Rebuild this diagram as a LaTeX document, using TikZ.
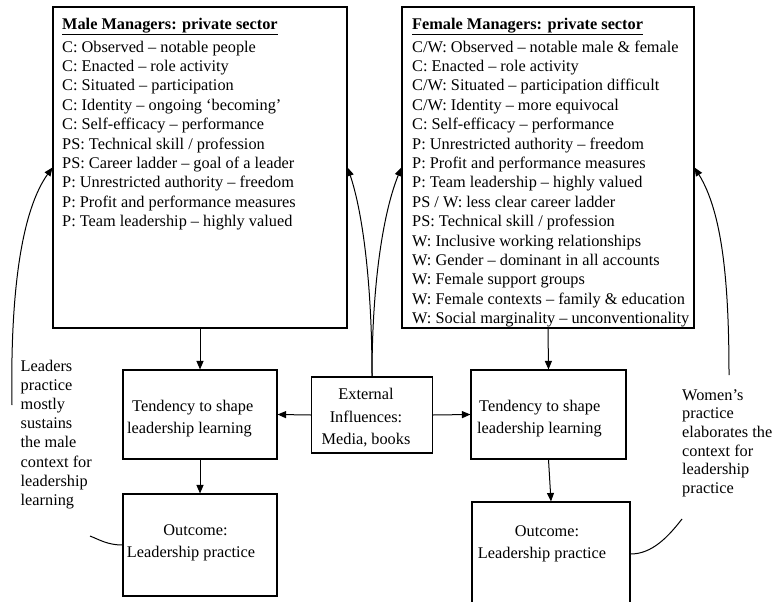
\documentclass[tikz,border=0pt]{standalone}
\usepackage{fontspec}
\setmainfont{Liberation Serif}
\usetikzlibrary{arrows.meta}
\begin{document}
\begin{tikzpicture}[x=1pt,y=-1pt,
  frame/.style={draw, line width=1.1pt, inner sep=0pt},
  link/.style={line width=1pt},
  arr/.style={link, -{Triangle[length=8.5pt,width=7pt]}},
  listtext/.style={inner sep=0pt, align=left, anchor=north west,
    font=\fontsize{16.3}{19.4}\selectfont},
  boxtext/.style={inner sep=0pt, anchor=north,
    font=\fontsize{16.3}{22.5}\selectfont},
  note/.style={inner sep=0pt, align=left, anchor=north west}
]
\useasboundingbox (0,0) rectangle (776,602);
\clip (0,0) rectangle (776,602);

% frames
\node[frame, minimum width=294, minimum height=321] (mbox) at (200,167.5) {};
\node[frame, minimum width=292, minimum height=321] (fbox) at (548,167.5) {};
\node[frame, minimum width=154, minimum height=89] (mtend) at (200,414.5) {};
\node[frame, minimum width=121, minimum height=76] (ext) at (372,415) {};
\node[frame, minimum width=155, minimum height=89] (ftend) at (548.5,414.5) {};
\node[frame, minimum width=154, minimum height=102] (mout) at (200,545) {};
\node[frame, minimum width=158, minimum height=104] (fout) at (551,554) {};

% lists of themes
\node[listtext] (mlist) at (62,17.5) {%
\underline{\textbf{Male Managers: private sector}}\\[3.6pt]
C: Observed – notable people\\
C: Enacted – role activity\\
C: Situated – participation\\
C: Identity – ongoing ‘becoming’\\
C: Self-efficacy – performance\\
PS: Technical skill / profession\\
PS: Career ladder – goal of a leader\\
P: Unrestricted authority – freedom\\
P: Profit and performance measures\\
P: Team leadership – highly valued};

\node[listtext] (flist) at (412,17.5) {%
\underline{\textbf{Female Managers: private sector}}\\[3.6pt]
C/W: Observed – notable male \& female\\
C: Enacted – role activity\\
C/W: Situated – participation difficult\\
C/W: Identity – more equivocal\\
C: Self-efficacy – performance\\
P: Unrestricted authority – freedom\\
P: Profit and performance measures\\
P: Team leadership – highly valued\\
PS / W: less clear career ladder\\
PS: Technical skill / profession\\
W: Inclusive working relationships\\
W: Gender – dominant in all accounts\\
W: Female support groups\\
W: Female contexts – family \& education\\
W: Social marginality – unconventionality};

% box texts
\node[boxtext, anchor=north west, align=left] (mtendtxt) at (127,399.6)
  {\hspace*{5pt}Tendency to shape\\leadership learning};
\node[boxtext, anchor=north west, align=left] (ftendtxt) at (477,399.6)
  {\hspace*{2pt}Tendency to shape\\leadership learning};
\node[boxtext, align=center] (exttxt) at (366,388.2)
  {External\\Influences:\\Media, books};
\node[boxtext, align=center, font=\fontsize{16.3}{22}\selectfont] (mouttxt) at (191,524.5)
  {\hspace*{9pt}Outcome:\\Leadership practice};
\node[boxtext, align=center, font=\fontsize{16.3}{22}\selectfont] (fouttxt) at (542,525.6)
  {\hspace*{10pt}Outcome:\\Leadership practice};

% side notes
\node[note, font=\fontsize{16.3}{19.1}\selectfont] (mnote) at (20.5,360)
  {Leaders\\practice\\mostly\\sustains\\the male\\context for\\leadership\\learning};
\node[note, font=\fontsize{16.3}{18.7}\selectfont] (fnote) at (682,389)
  {Women’s\\practice\\elaborates the\\context for\\leadership\\practice};

% free ends of the feedback curves
\coordinate (mrise) at (12,405);
\coordinate (mfoot) at (90,536);
\coordinate (frise) at (729,375);
\coordinate (ffoot) at (682,519);

% main flow
\draw[arr] (mbox.south) -- (mtend.north);
\draw[arr] (mtend.south) -- (mout.north);
\draw[arr] (fbox.south) -- (ftend.north);
\draw[arr] (ftend.south) -- (fout.north);
\draw[arr] (ext.west) -- (mtend.east);
\draw[arr] (ext.east) -- (ftend.west);

% external influences feeding both contexts
\draw[arr] (ext.north) .. controls (372,280) and (362,210) .. (mbox.east);
\draw[arr] (ext.north) .. controls (372,280) and (384,210) .. (fbox.west);

% practice feeding back into context
\draw[arr] (mrise) .. controls (10,290) and (22,210) .. (mbox.west);
\draw[link] (mout.west) .. controls (108,545) and (100,540) .. (mfoot);
\draw[arr] (frise) .. controls (729,280) and (722,212) .. (fbox.east);
\draw[link] (fout.east) .. controls (652,554) and (668,537) .. (ffoot);
\end{tikzpicture}
\end{document}
